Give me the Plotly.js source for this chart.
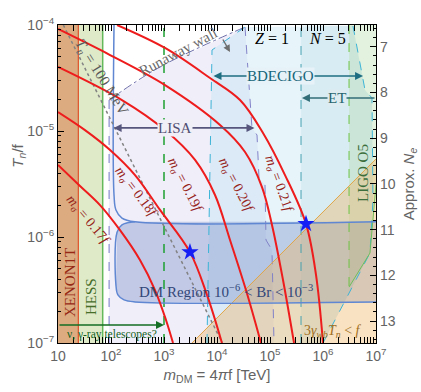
<!DOCTYPE html>
<html>
<head>
<meta charset="utf-8">
<script src="https://cdn.plot.ly/plotly-3.0.1.min.js"></script>
<style>html,body{margin:0;padding:0;background:#fff}#plot{width:421px;height:392px}</style>
</head>
<body>
<div id="plot"></div>
<script>
// m_DM in TeV, T_n/f
// curvas m_sigma = 0.17f ... 0.21f
const m017 = [10, 26, 62, 148, 352, 676, 1090, 1480];
const t017 = [4.78e-6, 3.03e-6, 2.0e-6, 1.16e-6, 6.07e-7, 3.16e-7, 1.65e-7, 1e-7];
const m018 = [10, 32.3, 96, 284, 841, 3090, 6470, 12400];
const t018 = [1.51e-5, 1.02e-5, 6.62e-6, 3.84e-6, 1.8e-6, 7.2e-7, 2.84e-7, 1e-7];
const m019 = [10, 161, 1045, 3850, 9170, 17600, 35200, 67600];
const t019 = [4.02e-5, 1.96e-5, 1.02e-5, 5.33e-6, 2.49e-6, 9.37e-7, 3.16e-7, 1e-7];
const m020 = [10, 96, 1045, 11400, 33800, 70600, 109000, 176000, 284000];
const t020 = [9.17e-5, 5.21e-5, 2.71e-5, 1.14e-5, 6.34e-6, 2.96e-6, 1.30e-6, 3.93e-7, 1e-7];
const m021 = [130, 1045, 7380, 27200, 73800, 192000, 478000, 738000, 1e6];
const t021 = [1e-4, 6.07e-5, 3.16e-5, 1.96e-5, 9.58e-6, 3.84e-6, 1.33e-6, 4.39e-7, 1e-7];

// puntos de referencia (estrellas)
const starM = [3090, 478000];
const starT = [7.2e-7, 1.33e-6];

// limites verticales
const xenonEdge = 24.2;
const hessEdge = 69.7;
const telescopeEdge = 1000;

// T_n = 100 MeV
const tnM = [12.6, 12600];
const tnT = [1e-4, 1e-7];

// runaway wall
const runM = [92, 841, 33800];
const runT = [1.96e-5, 4.02e-5, 9.57e-5];

// region LISA
const lisaM = [92, 92, 841, 33800, 45700, 56900, 62000, 80500, 84100, 109000, 119000];
const lisaT = [1e-7, 1.96e-5, 4.02e-5, 9.57e-5, 1.07e-5, 9.16e-6, 3.6e-6, 3.1e-6, 9.37e-7, 7.54e-7, 1e-7];

// region BDECIGO y ET
const decLeftM = [6470, 8050, 33800];
const decLeftT = [1e-7, 5.81e-5, 9.57e-5];
const decRightM = [3.68e6, 6.2e6, 8.4e6, 8.77e6, 7.7e6, 1e6];
const decRightT = [9.78e-5, 2.44e-5, 2.05e-5, 2.23e-6, 7.06e-7, 1e-7];
const etEdge = 3.85e5;

// LIGO O5
const ligoM = [3.1e6, 1e7, 1e7, 7.7e6, 3.1e6];
const ligoT = [1e-4, 1e-4, 3.1e-6, 7.06e-7, 3.37e-7];

// region DM
const brUpM = [114, 114, 124, 161, 284, 1e7];
const brUpT = [1e-4, 2.49e-6, 1.8e-6, 1.51e-6, 1.39e-6, 1.39e-6];
const dmM = [1e7, 284, 161, 130, 124, 135, 176, 284, 1e7];
const dmT = [1.39e-6, 1.39e-6, 1.30e-6, 1.11e-6, 3.52e-7, 2.84e-7, 2.55e-7, 2.44e-7, 2.44e-7];

// 3 gamma_wb T_n < f
const wbM = [3370, 1e7, 1e7];
const wbT = [1e-7, 5.45e-6, 1e-7];

// flechas
const lisaArrow = [105, 51000, 1.07e-5];
const decigoArrow = [8050, 5.7e6, 3.3e-5];
const etArrow = [4.0e5, 1e7, 2.05e-5];
const nuArrow = [10, 1000, 1.48e-7];

const xTicks = [10, 1e2, 1e3, 1e4, 1e5, 1e6, 1e7];
const xTickText = ['10', '10<sup>2</sup>', '10<sup>3</sup>', '10<sup>4</sup>', '10<sup>5</sup>', '10<sup>6</sup>', '10<sup>7</sup>'];
const yTicks = [1e-7, 1e-6, 1e-5, 1e-4];
const yTickText = ['10<sup>−7</sup>', '10<sup>−6</sup>', '10<sup>−5</sup>', '10<sup>−4</sup>'];
const neTicks = [7, 8, 9, 10, 11, 12, 13];

function minorLog(lo, hi) {
    const v = [];
    for (let e = lo; e < hi; e++) for (let k = 2; k <= 9; k++) v.push(k * Math.pow(10, e));
    return v;
}

function lin(x, y, color, width, dash, spline) {
    return { x: x, y: y, mode: 'lines', hoverinfo: 'skip', showlegend: false,
        line: { color: color, width: width, dash: dash || 'solid', shape: spline ? 'spline' : 'linear' } };
}
function area(x, y, color, spline) {
    return { x: x, y: y, mode: 'lines', fill: 'toself', fillcolor: color, hoverinfo: 'skip', showlegend: false,
        line: { width: 0, shape: spline ? 'spline' : 'linear' } };
}

const red = 'rgb(238,28,28)';
const traces = [
    area([10, xenonEdge, xenonEdge, 10], [1e-7, 1e-7, 1e-4, 1e-4], 'rgb(220,172,128)'),
    area([xenonEdge, hessEdge, hessEdge, xenonEdge], [1e-7, 1e-7, 1e-4, 1e-4], 'rgb(223,234,201)'),
    area(lisaM, lisaT, 'rgba(205,200,235,0.3)'),
    area(decLeftM.concat(decRightM), decLeftT.concat(decRightT), 'rgba(175,222,242,0.3)'),
    area([etEdge, etEdge].concat(decRightM), [1e-7, 1e-4].concat(decRightT), 'rgba(150,200,210,0.18)'),
    area(ligoM, ligoT, 'rgba(185,222,175,0.4)'),
    area(dmM, dmT, 'rgba(95,125,190,0.32)'),
    area(wbM, wbT, 'rgba(240,180,95,0.38)'),
    lin([xenonEdge, xenonEdge], [1e-7, 1e-4], 'rgb(222,80,40)', 1.2),
    lin([hessEdge, hessEdge], [1e-7, 1e-4], 'rgb(100,185,90)', 1.5),
    lin([telescopeEdge, telescopeEdge], [1e-7, 1e-4], 'rgb(30,160,50)', 1.5, 'dash'),
    lin([92, 92], [1e-7, 1.96e-5], 'rgb(120,120,200)', 1, 'dash'),
    lin(lisaM.slice(3), lisaT.slice(3), 'rgb(130,130,200)', 1, 'dash'),
    lin(decLeftM, decLeftT, 'rgb(60,180,215)', 1, 'dash'),
    lin(decRightM, decRightT, 'rgb(60,180,215)', 1, 'dash'),
    lin([etEdge, etEdge], [1e-7, 1e-4], 'rgb(70,160,175)', 1, 'dash'),
    lin([ligoM[0], ligoM[4]], [ligoT[0], ligoT[4]], 'rgb(110,195,70)', 1, 'dash'),
    lin(ligoM.slice(2), ligoT.slice(2), 'rgb(110,190,90)', 1),
    lin(wbM.slice(0, 2), wbT.slice(0, 2), 'rgb(225,165,70)', 1),
    lin(brUpM, brUpT, 'rgb(95,135,210)', 1.5, 'solid', true),
    lin(dmM.slice(1), dmT.slice(1), 'rgb(95,135,210)', 1.5, 'solid', true),
    lin(tnM, tnT, 'rgb(130,130,130)', 1.5, 'dot'),
    lin(runM, runT, 'rgb(110,110,170)', 1, 'dashdot', true),
    lin(m017, t017, red, 2, 'solid', true),
    lin(m018, t018, red, 2, 'solid', true),
    lin(m019, t019, red, 2, 'solid', true),
    lin(m020, t020, red, 2, 'solid', true),
    lin(m021, t021, red, 2, 'solid', true),
    { x: starM, y: starT, mode: 'markers', hoverinfo: 'skip', showlegend: false,
      marker: { symbol: 'star', size: 13, color: 'rgb(20,30,245)', line: { width: 0 } } },
    { x: [10], y: [7], yaxis: 'y2', mode: 'markers', hoverinfo: 'skip', showlegend: false, marker: { opacity: 0 } }
];

// posicion en pixeles -> papel
const P = (px, py) => ({ x: (px - 58) / 318, y: (343 - py) / 318 });
const serif = 'Liberation Serif, DejaVu Serif, serif';

function label(px, py, text, color, size, angle, bg) {
    const p = P(px, py);
    return { xref: 'paper', yref: 'paper', x: p.x, y: p.y, xanchor: 'center', yanchor: 'middle',
        text: text, showarrow: false,
        textangle: angle || 0, font: { family: serif, size: size, color: color },
        bgcolor: bg || 'rgba(0,0,0,0)', borderpad: 0 };
}
function arrow(m0, m1, t, color, both) {
    return { xref: 'x', yref: 'y', axref: 'x', ayref: 'y',
        x: Math.log10(m1), y: Math.log10(t), ax: Math.log10(m0), ay: Math.log10(t),
        text: '', showarrow: true, arrowhead: 2, arrowsize: 1, arrowwidth: 1.6,
        arrowside: both ? 'end+start' : 'end', arrowcolor: color };
}

const mRed = 'rgb(150,35,25)';
const annotations = [
    arrow(lisaArrow[0], lisaArrow[1], lisaArrow[2], 'rgb(85,85,125)', true),
    arrow(decigoArrow[0], decigoArrow[1], decigoArrow[2], 'rgb(30,110,130)', true),
    arrow(etArrow[1], etArrow[0], etArrow[2], 'rgb(50,110,120)', false),
    arrow(nuArrow[0], nuArrow[1], nuArrow[2], 'rgb(20,110,35)', false),
    label(175, 128, 'LISA', 'rgb(80,80,115)', 15, 0, 'rgb(240,239,248)'),
    label(280, 76, 'BDECIGO', 'rgb(20,100,120)', 15, 0, 'rgb(230,242,248)'),
    label(337, 98, 'ET', 'rgb(40,100,110)', 15, 0, 'rgb(220,236,240)'),
    label(272, 38, '<i>Z</i> = 1', 'black', 16),
    label(327, 38, '<i>N</i> = 5', 'black', 16),
    label(70, 283, 'XENON1T', 'rgb(150,40,20)', 15, -90),
    label(91, 297, 'HESS', 'rgb(70,110,40)', 15, -90),
    label(363, 173, 'LIGO O5', 'rgb(60,110,60)', 15, -90),
    label(112, 334.5, 'ν, γ-ray telescopes?', 'rgb(20,100,30)', 11.5),
    label(226, 291, 'DM Region 10<sup>−6</sup> < Br < 10<sup>−3</sup>', 'rgb(50,70,120)', 15),
    label(333, 331, '3<i>γ<sub>wb</sub>T<sub>n</sub></i> < <i>f</i>', 'rgb(160,110,30)', 14),
    label(178, 52, 'Runaway wall', 'rgb(105,105,105)', 15, -28),
    label(101, 77, '<i>T<sub>n</sub></i> = 100 MeV', 'rgb(90,90,90)', 15, 58),
    label(88, 220, '<i>m<sub>σ</sub></i> = 0.17<i>f</i>', mRed, 14, 50),
    label(136, 192, '<i>m<sub>σ</sub></i> = 0.18<i>f</i>', mRed, 14, 52),
    label(185, 185, '<i>m<sub>σ</sub></i> = 0.19<i>f</i>', mRed, 14, 62),
    label(236, 185, '<i>m<sub>σ</sub></i> = 0.20<i>f</i>', mRed, 14, 62),
    label(279, 184, '<i>m<sub>σ</sub></i> = 0.21<i>f</i>', mRed, 14, 70),
    { xref: 'x', yref: 'y', axref: 'pixel', ayref: 'pixel', x: Math.log10(17600), y: Math.log10(5.56e-5),
      ax: -8, ay: -14, text: '', showarrow: true, arrowhead: 2, arrowwidth: 1.4, arrowcolor: 'rgb(110,110,110)' },
    { xref: 'paper', yref: 'paper', x: -0.125, y: 0.59, xanchor: 'center', yanchor: 'middle',
      text: '<i>T<sub>n</sub></i>/f', showarrow: false,
      textangle: -90, font: { family: 'Liberation Sans, Arial, sans-serif', size: 15, color: 'rgb(100,100,100)' } }
];

const axisFont = { family: 'Liberation Sans, Arial, sans-serif', size: 14, color: 'rgb(100,100,100)' };
const layout = {
    width: 421, height: 392,
    margin: { l: 58, r: 45, t: 25, b: 49 },
    paper_bgcolor: 'white', plot_bgcolor: 'white',
    showlegend: false,
    xaxis: {
        type: 'log', range: [1, 7], tickmode: 'array', tickvals: xTicks, ticktext: xTickText,
        ticks: 'inside', ticklen: 6, tickcolor: 'black', showline: true, linecolor: 'black', linewidth: 1.2,
        mirror: 'allticks', showgrid: false, zeroline: false, tickfont: axisFont,
        minor: { tickmode: 'array', tickvals: minorLog(1, 7), ticks: 'inside', ticklen: 3, tickcolor: 'black', showgrid: false },
        title: { text: '<i>m</i><sub>DM</sub> = 4<i>π</i>f [TeV]', font: { family: 'Liberation Sans, Arial, sans-serif', size: 15, color: 'rgb(100,100,100)' }, standoff: 6 }
    },
    yaxis: {
        type: 'log', range: [-7, -4], tickmode: 'array', tickvals: yTicks, ticktext: yTickText,
        ticks: 'inside', ticklen: 6, tickcolor: 'black', showline: true, linecolor: 'black', linewidth: 1.2,
        mirror: false, showgrid: false, zeroline: false, tickfont: axisFont,
        minor: { tickmode: 'array', tickvals: minorLog(-7, -4), ticks: 'inside', ticklen: 3, tickcolor: 'black', showgrid: false }
    },
    yaxis2: {
        overlaying: 'y', side: 'right', range: [13.48, 6.525], tickmode: 'array', tickvals: neTicks,
        ticks: 'inside', ticklen: 6, tickcolor: 'black', showline: true, linecolor: 'black', linewidth: 1.2,
        showgrid: false, zeroline: false, tickfont: axisFont,
        minor: { dtick: 0.2, ticks: 'inside', ticklen: 3, tickcolor: 'black', showgrid: false },
        title: { text: 'Approx. <i>N<sub>e</sub></i>', font: { family: 'Liberation Sans, Arial, sans-serif', size: 15, color: 'rgb(100,100,100)' }, standoff: 8 }
    },
    annotations: annotations
};

Plotly.newPlot('plot', traces, layout, { displayModeBar: false });
</script>
</body>
</html>
